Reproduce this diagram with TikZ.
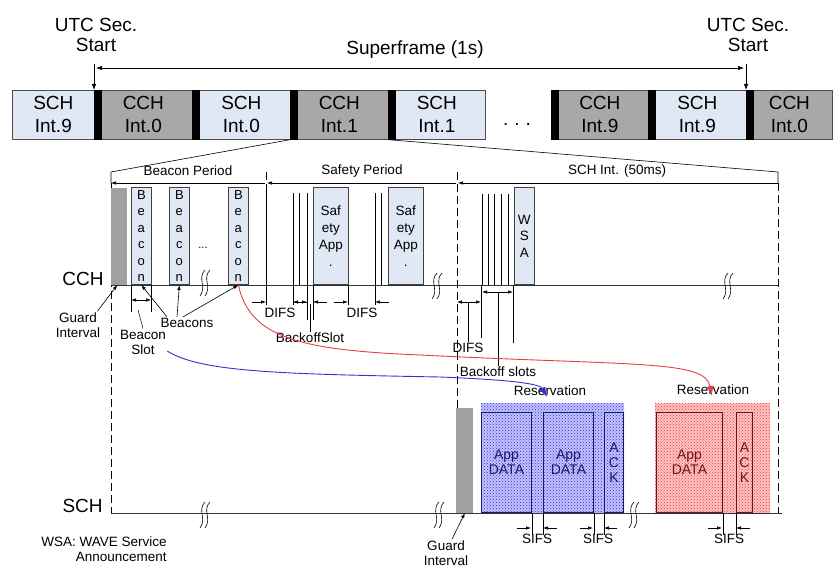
\documentclass[tikz,border=0pt]{standalone}
\usepackage{fontspec}
\setmainfont{Liberation Sans}
\usepackage{tikz}
\usetikzlibrary{arrows.meta,patterns}
\definecolor{slotblue}{RGB}{224,232,245}
\definecolor{slotgrey}{RGB}{168,168,168}
\definecolor{guardgrey}{RGB}{160,160,160}
\definecolor{resblue}{RGB}{50,50,210}
\definecolor{resred}{RGB}{230,60,70}
\definecolor{navyline}{RGB}{25,25,100}
\definecolor{darkred}{RGB}{110,20,20}
\tikzset{
  topslot/.style={
    rectangle,
    draw=black!70,
    anchor=north west,
    minimum height=49pt,
    inner sep=0pt,
    align=center,
    font=\fontsize{19}{23}\selectfont
  },
  framebox/.style={
    rectangle,
    draw=black!75,
    fill=slotblue,
    anchor=south west,
    minimum width=20pt,
    minimum height=97pt,
    inner sep=0pt,
    align=center,
    font=\fontsize{13}{16.5}\selectfont
  },
  guardbox/.style={
    rectangle,
    fill=guardgrey,
    anchor=south west,
    inner sep=0pt
  },
  databox/.style={
    rectangle,
    draw=navyline,
    line width=0.9pt,
    anchor=south west,
    minimum height=100pt,
    inner sep=0pt,
    align=center,
    text=navyline,
    font=\fontsize{14}{15}\selectfont
  },
  biglabel/.style={align=center, inner sep=1pt, font=\fontsize{19}{20}\selectfont},
  smalllabel/.style={align=center, inner sep=1pt, font=\fontsize{13.5}{15}\selectfont},
  dimarrow/.style={-{Latex[length=5pt,width=3.5pt]}, line width=0.6pt},
  bigarrow/.style={-{Latex[length=6pt,width=4.5pt]}, line width=0.7pt},
  dblarrow/.style={{Latex[length=6pt,width=4.5pt]}-{Latex[length=6pt,width=4.5pt]}, line width=0.7pt},
  curvearrow/.style={-{Latex[length=10pt,width=7pt]}, line width=0.9pt},
  timeline/.style={line width=1pt, draw=black!80},
  bounddash/.style={line width=0.9pt, dash pattern=on 8pt off 4pt},
  brk/.pic={
    \draw[line width=0.6pt] (2,-13) .. controls (-6,-5) and (4,4) .. (-3,13);
    \draw[line width=0.6pt] (7,-13) .. controls (-1,-5) and (9,4) .. (2,13);
  }
}
\begin{document}
\begin{tikzpicture}[x=1pt, y=-1pt, line width=0.7pt]
\useasboundingbox (0,0) rectangle (834,567);

% superframe row
\node[topslot, fill=slotblue, minimum width=82pt] (sch9a) at (12,90) {SCH\\Int.9};
\node[topslot, fill=slotgrey, minimum width=98pt] (cch0a) at (94,90) {CCH\\Int.0};
\node[topslot, fill=slotblue, minimum width=98pt] (sch0) at (192,90) {SCH\\Int.0};
\node[topslot, fill=slotgrey, minimum width=98pt] (cch1) at (290,90) {CCH\\Int.1};
\node[topslot, fill=slotblue, minimum width=97pt] (sch1) at (388,90) {SCH\\Int.1};
\node[biglabel, anchor=base] (gapdots) at (517,125) {.\hspace{6pt}.\hspace{6pt}.};
\node[topslot, fill=slotgrey, minimum width=97pt] (cch9) at (551,90) {CCH\\Int.9};
\node[topslot, fill=slotblue, minimum width=98pt] (sch9b) at (648,90) {SCH\\Int.9};
\node[topslot, fill=slotgrey, minimum width=86pt] (cch0b) at (746,90) {CCH\\Int.0};
\foreach \n in {cch0a,sch0,cch1,sch1,cch9,sch9b,cch0b}
  \fill (\n.north west) rectangle ([xshift=8pt]\n.south west);

\node[biglabel] (utcleft) at (96,35) {UTC Sec.\\Start};
\node[biglabel] (utcright) at (748,35) {UTC Sec.\\Start};
\node[biglabel] (superframe) at (415,50) {Superframe (1s)};
\draw[bigarrow] ([yshift=26pt]cch0a.north west) -- (cch0a.north west);
\draw[bigarrow] ([yshift=26pt]cch0b.north west) -- (cch0b.north west);
\draw[dblarrow] ([xshift=2pt,yshift=22pt]cch0a.north west) -- ([xshift=-2pt,yshift=22pt]cch0b.north west);

% zoom into CCH Int.1
\coordinate (bpl) at (111,183);
\coordinate (bpr) at (266,183);
\coordinate (spr) at (457,183);
\coordinate (scr) at (778,183);
\draw[line width=0.6pt] (cch1.south west) -- (111,172) -- (bpl);
\draw[line width=0.6pt] (cch1.south east) -- (778,172) -- (scr);
\draw[dimarrow, {Latex[length=5pt,width=3.5pt]}-] (bpl) -- ([xshift=-1pt]bpr);
\draw[dimarrow, {Latex[length=5pt,width=3.5pt]}-] ([xshift=1pt]bpr) -- ([xshift=-1pt]spr);
\draw[dimarrow, {Latex[length=5pt,width=3.5pt]}-] ([xshift=1pt]spr) -- (scr);
\node[smalllabel] (bplabel) at (188,171) {Beacon Period};
\node[smalllabel] (splabel) at (362,171) {Safety Period};
\node[smalllabel] (sclabel) at (617,171) {SCH Int. (50ms)};

% interval boundaries
\draw[bounddash] (111,183) -- (111,513);
\draw[bounddash] (266,172) -- (266,190);
\draw (266,190) -- (266,305);
\draw[bounddash] (457,172) -- (457,513);
\draw[bounddash] (778,183) -- (778,513);

% CCH channel
\node[guardbox, minimum width=16pt, minimum height=97pt] (gcch) at (111,285) {};
\node[framebox] (bcn1) at (131,285) {B\\e\\a\\c\\o\\n};
\node[framebox] (bcn2) at (169,285) {B\\e\\a\\c\\o\\n};
\node[smalllabel, font=\fontsize{11}{12}\selectfont] (bcndots) at (203,248) {...};
\node[framebox] (bcn3) at (228,285) {B\\e\\a\\c\\o\\n};
\node[framebox, minimum width=35pt, font=\fontsize{13.5}{17}\selectfont] (safe1) at (313,285) {Saf\\ety\\App\\.};
\node[framebox, minimum width=35pt, font=\fontsize{13.5}{17}\selectfont] (safe2) at (388,285) {Saf\\ety\\App\\.};
\node[framebox, font=\fontsize{13.5}{16.5}\selectfont] (wsa) at (514,285) {W\\S\\A};
\foreach \x in {293,299,307,375,381}
  \draw[line width=0.6pt] (\x,193) -- (\x,285);
\foreach \x in {482,488,494,501,508}
  \draw[line width=0.6pt] (\x,194) -- (\x,285);
\draw[timeline] (111,285) -- (778,285);
\node[biglabel, anchor=base east] (cchlabel) at (105,285) {CCH};
\pic at (203,283) {brk};
\pic at (435,286) {brk};
\pic at (726,286) {brk};

% beacon slot and beacons
\draw[line width=0.6pt] (bcn1.south west) -- ++(0,27);
\draw[line width=0.6pt] (bcn1.south east) -- ++(0,27);
\draw[dimarrow] (141,300) -- (131,300);
\draw[dimarrow] (141,300) -- (151,300);
\node[smalllabel] (bslot) at (143,342) {Beacon\\Slot};
\draw[navyline, line width=0.6pt] (138,310) -- (bslot.north);
\node[smalllabel] (beacons) at (187,323) {Beacons};
\draw[dimarrow] ([xshift=-20pt]beacons.north) -- (bcn1.south);
\draw[dimarrow] ([xshift=-10pt]beacons.north) -- (bcn2.south);
\draw[dimarrow] ([xshift=-4pt]beacons.north) -- (bcn3.south);
\node[smalllabel] (gicch) at (78,325) {Guard\\Interval};
\draw[dimarrow] ([xshift=-4pt]gicch.north east) -- ([xshift=-2pt]gcch.south);

% DIFS and backoff on CCH
\draw[line width=0.6pt] (293,285) -- (293,305);
\draw[line width=0.6pt] (307,285) -- (307,320);
\draw[line width=0.6pt] (313,285) -- (313,320);
\draw[line width=0.6pt] (348,285) -- (348,305);
\draw[line width=0.6pt] (375,285) -- (375,305);
\draw[dimarrow] (252,302) -- (266,302);
\draw[dimarrow] (307,302) -- (293,302);
\draw[dimarrow] (293,302) -- (307,302);
\draw[dimarrow] (327,302) -- (313,302);
\draw[dimarrow] (334,302) -- (348,302);
\draw[dimarrow] (389,302) -- (375,302);
\node[smalllabel] (difs1) at (280,313) {DIFS};
\node[smalllabel] (difs2) at (362,313) {DIFS};
\node[smalllabel] (bkslot) at (310,338) {BackoffSlot};
\draw[line width=0.6pt] (310,304) -- (bkslot.north);

\draw[line width=0.6pt] (481,285) -- (481,338);
\draw[line width=0.6pt] (513,285) -- (513,343);
\draw[dimarrow] (468,302) -- (457,302);
\draw[dimarrow] (468,302) -- (481,302);
\draw[dimarrow] (498,292) -- (482,292);
\draw[dimarrow] (498,292) -- (513,292);
\node[smalllabel] (difs3) at (468,348) {DIFS};
\node[smalllabel] (bkslots) at (498,372) {Backoff slots};
\draw[line width=0.6pt] (468,302) -- (difs3.north);
\draw[line width=0.6pt] (498,292) -- (bkslots.north);

% SCH channel
\node[guardbox, minimum width=17pt, minimum height=105pt] (gsch) at (456,513) {};
\fill[blue!24] (481,403) rectangle (624,513);
\fill[pattern=crosshatch dots, pattern color=resblue] (481,403) rectangle (624,513);
\node[databox, minimum width=50pt] (data1) at (481,513) {App\\DATA};
\node[databox, minimum width=50pt] (data2) at (543,513) {App\\DATA};
\node[databox, minimum width=19pt] (ack1) at (604,513) {A\\C\\K};
\fill[red!24] (655,403) rectangle (770,513);
\fill[pattern=crosshatch dots, pattern color=resred] (655,403) rectangle (770,513);
\node[databox, draw=darkred, text=darkred, minimum width=66pt] (data3) at (656,513) {App\\DATA};
\node[databox, draw=darkred, text=darkred, minimum width=16pt] (ack2) at (736,513) {A\\C\\K};
\draw[timeline] (111,513) -- (782,513);
\node[biglabel, anchor=base east] (schlabel) at (104,512) {SCH};
\pic at (203,515) {brk};
\pic at (437,515) {brk};
\pic at (632,515) {brk};
\node[smalllabel] (rsvblue) at (550,391) {Reservation};
\node[smalllabel] (rsvred) at (713,390) {Reservation};

% SIFS
\draw[line width=0.6pt] (data1.south east) -- ++(0,22);
\draw[line width=0.6pt] (data2.south west) -- ++(0,22);
\draw[line width=0.6pt] (data2.south east) -- ++(0,22);
\draw[line width=0.6pt] (ack1.south west) -- ++(0,22);
\draw[line width=0.6pt] (data3.south east) -- ++(0,22);
\draw[line width=0.6pt] (ack2.south west) -- ++(0,22);
\draw[dimarrow] (517,528) -- (531,528);
\draw[dimarrow] (557,528) -- (543,528);
\draw[dimarrow] (580,528) -- (593,528);
\draw[dimarrow] (617,528) -- (604,528);
\draw[dimarrow] (708,528) -- (722,528);
\draw[dimarrow] (750,528) -- (736,528);
\node[smalllabel] (sifs1) at (537,539) {SIFS};
\node[smalllabel] (sifs2) at (598,539) {SIFS};
\node[smalllabel] (sifs3) at (729,539) {SIFS};

\node[smalllabel] (gisch) at (446,553) {Guard\\Interval};
\draw[dimarrow] ([xshift=6pt]gisch.north) -- (gsch.south);

% beacons mapped to reservations
\draw[curvearrow, resblue] ([yshift=-9pt]bslot.east) .. controls (200,372) and (280,374) .. (440,377)
  .. controls (515,380) and (540,384) .. ([xshift=-3pt,yshift=-6pt]rsvblue.center);
\draw[curvearrow, resred] (bcn3.south) .. controls (250,338) and (300,350) .. (420,355)
  .. controls (640,366) and (705,360) .. ([xshift=-1pt,yshift=-6pt]rsvred.center);

\node[smalllabel, anchor=north east, align=right] (wsanote) at (168,535) {WSA: WAVE Service\\Announcement};
\end{tikzpicture}
\end{document}
